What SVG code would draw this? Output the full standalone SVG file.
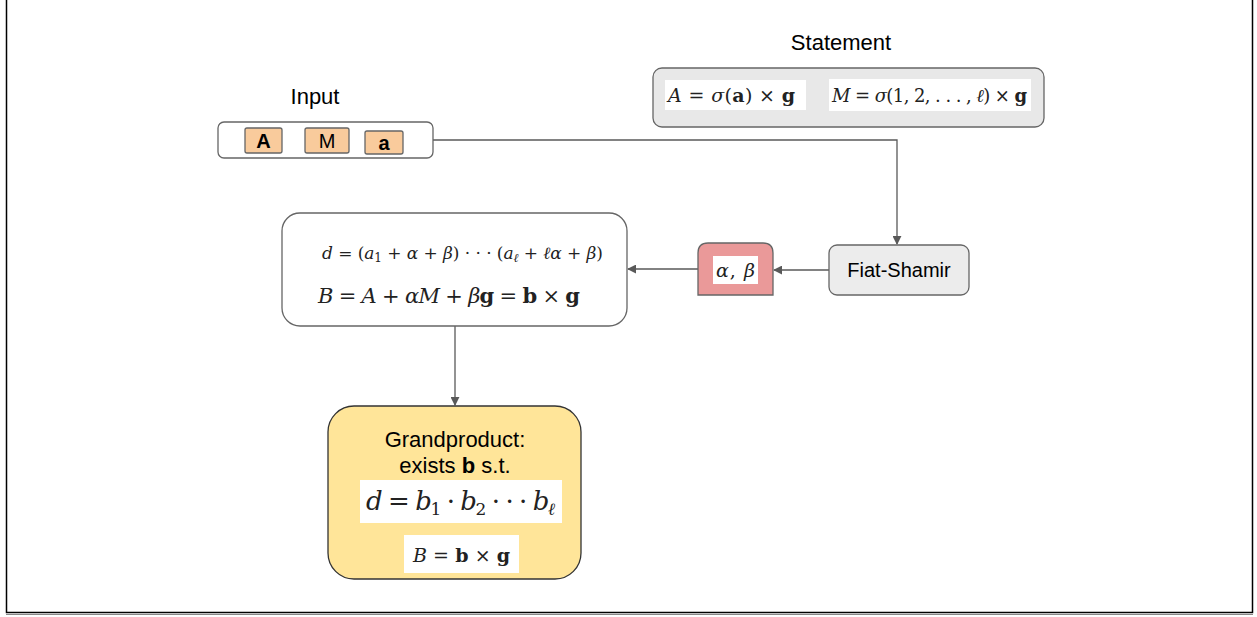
<svg xmlns="http://www.w3.org/2000/svg" width="1257" height="617" viewBox="0 0 1257 617">
<defs>
<style>
.lbl{font-family:"Liberation Sans",Arial,sans-serif;fill:#000}
.m{font-family:"DejaVu Serif","Liberation Serif",serif;fill:#222}
.i{font-style:italic}
.b{font-weight:bold}
.box{stroke:#666;stroke-width:1.3}
.conn{fill:none;stroke:#595959;stroke-width:1.3}
</style>
<marker id="arr" viewBox="0 0 10 10" refX="9" refY="5" markerWidth="9" markerHeight="9" markerUnits="userSpaceOnUse" orient="auto">
<path d="M0,0 L10,5 L0,10 z" fill="#595959"/>
</marker>
</defs>
<rect width="1257" height="617" fill="#fff"/>
<path d="M6.5,0 V612.5 H1252.5 V0" fill="none" stroke="#000" stroke-width="1.5"/>
<line x1="6" y1="614.5" x2="1253" y2="614.5" stroke="#888" stroke-width="1"/>

<g id="connectors">
<path class="conn" d="M433,140 H897 V244" marker-end="url(#arr)"/>
<path class="conn" d="M829,270 H774" marker-end="url(#arr)"/>
<path class="conn" d="M698,269 H628" marker-end="url(#arr)"/>
<path class="conn" d="M455,326 V405" marker-end="url(#arr)"/>
</g>

<g id="statement">
<text class="lbl" x="841" y="50" font-size="22" text-anchor="middle">Statement</text>
<rect class="box" x="653" y="68" width="391" height="59" rx="9" fill="#e8e8e8"/>
<rect x="665" y="80" width="141" height="30" fill="#fff"/>
<text class="m" x="668" y="102" font-size="19" textLength="127" lengthAdjust="spacing"><tspan class="i">A</tspan> = <tspan class="i">σ</tspan>(<tspan class="b">a</tspan>) × <tspan class="b">g</tspan></text>
<rect x="829" y="79" width="202" height="32" fill="#fff"/>
<text class="m" x="832" y="102" font-size="18" textLength="195" lengthAdjust="spacing"><tspan class="i">M</tspan> = <tspan class="i">σ</tspan>(1, 2, . . . , <tspan class="i">ℓ</tspan>) × <tspan class="b">g</tspan></text>
</g>

<g id="input">
<text class="lbl" x="315" y="104" font-size="22" text-anchor="middle">Input</text>
<rect class="box" x="218" y="122" width="215" height="36" rx="6" fill="#fff"/>
<rect class="box" x="245" y="128" width="37" height="25" rx="2" fill="#f9cb9c"/>
<text class="lbl b" x="263.5" y="148" font-size="20" text-anchor="middle">A</text>
<rect class="box" x="305" y="128" width="44" height="25" rx="2" fill="#f9cb9c"/>
<text class="lbl" x="327" y="148" font-size="20" text-anchor="middle">M</text>
<rect class="box" x="365" y="131" width="38" height="23" rx="2" fill="#f9cb9c"/>
<text class="lbl b" x="384" y="150" font-size="20" text-anchor="middle">a</text>
</g>

<g id="fiat-shamir">
<rect class="box" x="829" y="245" width="140" height="50" rx="8" fill="#ececec"/>
<text class="lbl" x="899" y="277" font-size="20" text-anchor="middle">Fiat-Shamir</text>
</g>

<g id="alphabeta">
<path class="box" d="M698,295 V253 Q698,243 708,243 H763 Q773,243 773,253 V295 Z" fill="#ea9999"/>
<rect x="713" y="256" width="45" height="28" fill="#fff"/>
<text class="m" x="716" y="277" font-size="19" textLength="39" lengthAdjust="spacing"><tspan class="i">α</tspan>, <tspan class="i">β</tspan></text>
</g>

<g id="derive">
<rect class="box" x="282" y="213" width="345" height="113" rx="18" fill="#fff"/>
<text class="m" x="322" y="259" font-size="17" textLength="281" lengthAdjust="spacing"><tspan class="i">d</tspan> = (<tspan class="i">a</tspan><tspan font-size="12" dy="3">1</tspan><tspan dy="-3"> + </tspan><tspan class="i">α</tspan> + <tspan class="i">β</tspan>) · · · (<tspan class="i">a</tspan><tspan class="i" font-size="12" dy="3">ℓ</tspan><tspan dy="-3"> + </tspan><tspan class="i">ℓα</tspan> + <tspan class="i">β</tspan>)</text>
<text class="m" x="318" y="303" font-size="21" textLength="262" lengthAdjust="spacing"><tspan class="i">B</tspan> = <tspan class="i">A</tspan> + <tspan class="i">αM</tspan> + <tspan class="i">β</tspan><tspan class="b">g</tspan> = <tspan class="b">b</tspan> × <tspan class="b">g</tspan></text>
</g>

<g id="grandproduct">
<rect x="328" y="406" width="253" height="173" rx="26" fill="#ffe599" stroke="#333" stroke-width="1.3"/>
<text class="lbl" x="455" y="447" font-size="22" text-anchor="middle">Grandproduct:</text>
<text class="lbl" x="455" y="473" font-size="22" text-anchor="middle">exists <tspan class="b">b</tspan> s.t.</text>
<rect x="360" y="480" width="202" height="43" fill="#fff"/>
<text class="m" x="366" y="510" font-size="26" textLength="189" lengthAdjust="spacing"><tspan class="i">d</tspan> = <tspan class="i">b</tspan><tspan font-size="17" dy="5">1</tspan><tspan dy="-5"> · </tspan><tspan class="i">b</tspan><tspan font-size="17" dy="5">2</tspan><tspan dy="-5"> · · · </tspan><tspan class="i">b</tspan><tspan class="i" font-size="17" dy="5">ℓ</tspan></text>
<rect x="404" y="535" width="115" height="38" fill="#fff"/>
<text class="m" x="413" y="562" font-size="19" textLength="97" lengthAdjust="spacing"><tspan class="i">B</tspan> = <tspan class="b">b</tspan> × <tspan class="b">g</tspan></text>
</g>
</svg>
